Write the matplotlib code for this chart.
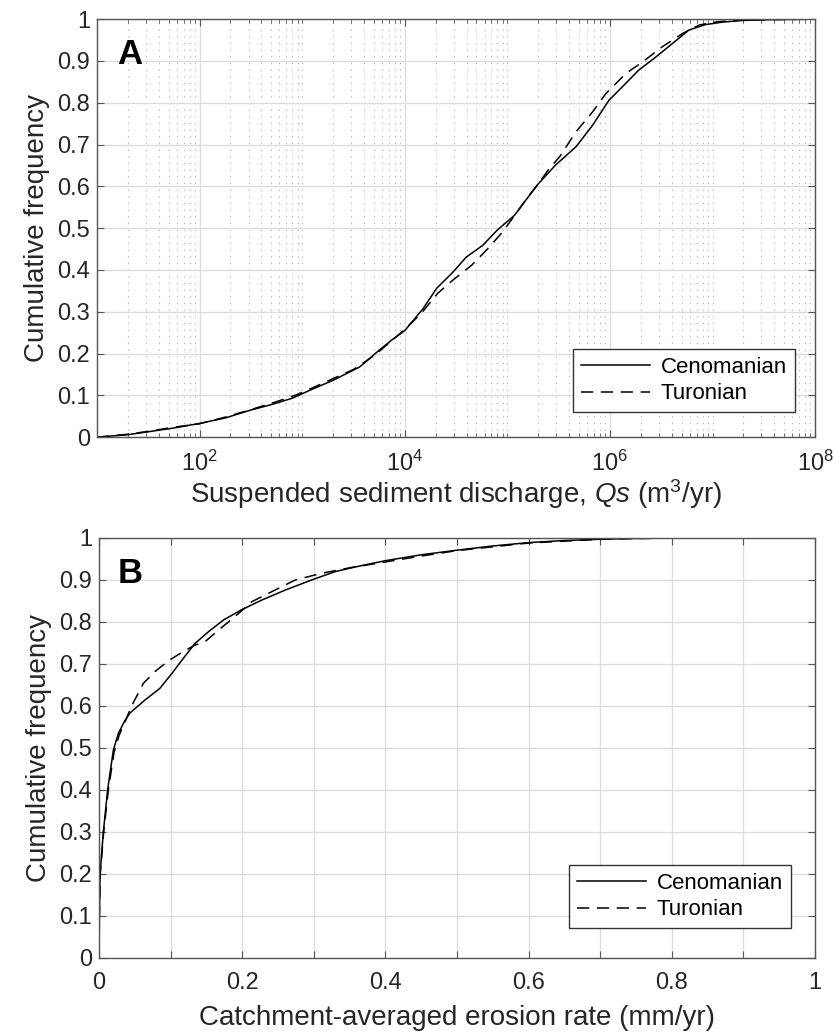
import numpy as np
import matplotlib
matplotlib.use("Agg")
import matplotlib.pyplot as plt
from matplotlib.ticker import LogLocator, FixedLocator, FuncFormatter, NullFormatter

plt.rcParams["font.family"] = ["Liberation Sans", "DejaVu Sans"]
plt.rcParams["mathtext.fontset"] = "custom"
plt.rcParams["mathtext.rm"] = "Liberation Sans"
plt.rcParams["mathtext.it"] = "Liberation Sans:italic"
plt.rcParams["mathtext.bf"] = "Liberation Sans:bold"

# Panel A: suspended sediment discharge (log10 of m3/yr) vs cumulative frequency
qs_log_cen = [1.0, 1.3, 1.5, 1.75, 2.0, 2.25, 2.5, 2.7, 2.9, 3.1, 3.3, 3.56, 3.75,
              3.87, 4.0, 4.18, 4.31, 4.47, 4.6, 4.76, 4.9, 5.07, 5.29, 5.47, 5.67,
              5.83, 5.99, 6.12, 6.28, 6.45, 6.61, 6.77, 6.93, 7.1, 7.3, 7.6, 8.0]
cf_cen_a = [0.0, 0.006, 0.013, 0.022, 0.033, 0.046, 0.065, 0.078, 0.093, 0.115, 0.136,
            0.168, 0.208, 0.232, 0.255, 0.308, 0.356, 0.395, 0.431, 0.459, 0.495,
            0.531, 0.603, 0.651, 0.695, 0.746, 0.806, 0.838, 0.878, 0.91, 0.942,
            0.974, 0.987, 0.993, 0.997, 0.999, 1.0]
qs_log_tur = [1.0, 1.3, 1.5, 1.75, 2.0, 2.25, 2.5, 2.75, 2.95, 3.1, 3.3, 3.5, 3.7,
              3.85, 4.0, 4.16, 4.32, 4.47, 4.65, 4.81, 4.95, 5.07, 5.2, 5.3, 5.4,
              5.51, 5.67, 5.83, 5.96, 6.155, 6.32, 6.51, 6.71, 6.87, 7.05, 7.3, 7.6, 8.0]
cf_tur_a = [0.0, 0.007, 0.014, 0.024, 0.032, 0.048, 0.066, 0.085, 0.102, 0.118, 0.14,
            0.162, 0.195, 0.226, 0.258, 0.296, 0.344, 0.376, 0.411, 0.451, 0.49,
            0.53, 0.575, 0.605, 0.64, 0.671, 0.731, 0.778, 0.822, 0.87, 0.898,
            0.934, 0.966, 0.986, 0.994, 0.998, 0.999, 1.0]

# Panel B: catchment-averaged erosion rate (mm/yr) vs cumulative frequency
er_cen = [0.0, 0.0005, 0.0015, 0.006, 0.012, 0.02, 0.027, 0.036, 0.043, 0.064, 0.085,
          0.102, 0.118, 0.134, 0.153, 0.174, 0.199, 0.227, 0.26, 0.3, 0.33, 0.355,
          0.40, 0.45, 0.5, 0.55, 0.6, 0.65, 0.7, 0.75, 0.8]
cf_cen_b = [0.0, 0.1, 0.2, 0.3, 0.4, 0.495, 0.535, 0.565, 0.583, 0.614, 0.642, 0.678,
            0.714, 0.749, 0.777, 0.805, 0.829, 0.852, 0.876, 0.902, 0.92, 0.93, 0.946,
            0.96, 0.971, 0.981, 0.989, 0.994, 0.997, 0.999, 1.0]
er_tur = [0.0, 0.0005, 0.0017, 0.0065, 0.013, 0.021, 0.028, 0.037, 0.046, 0.062, 0.078,
          0.099, 0.118, 0.134, 0.148, 0.167, 0.19, 0.213, 0.241, 0.274, 0.311, 0.35,
          0.4, 0.45, 0.5, 0.6, 0.7, 0.8, 0.9]
cf_tur_b = [0.0, 0.1, 0.2, 0.3, 0.4, 0.49, 0.53, 0.565, 0.602, 0.654, 0.682, 0.71,
            0.73, 0.745, 0.753, 0.781, 0.813, 0.848, 0.872, 0.9, 0.916, 0.929, 0.943,
            0.957, 0.97, 0.988, 0.997, 1.0, 1.0]

labels = ["Cenomanian", "Turonian"]
spine_col = "#555555"
text_col = "#262626"
fs_tick = 17
fs_lab = 20
fs_leg = 16

fig = plt.figure(figsize=(8.35, 10.36), dpi=100)
ax_a = fig.add_axes([0.1162, 0.578, 0.860, 0.4035])
ax_b = fig.add_axes([0.1186, 0.0753, 0.8575, 0.4054])

yfmt = FuncFormatter(lambda v, p: "%g" % round(v, 2))


def style(ax):
    for s in ax.spines.values():
        s.set_color(spine_col)
        s.set_linewidth(1.0)
    ax.tick_params(which="both", direction="in", top=True, right=True,
                   colors=spine_col, labelcolor=text_col, labelsize=fs_tick)
    ax.tick_params(which="major", length=5, pad=5)
    ax.tick_params(which="minor", length=3)
    ax.tick_params(axis="x", which="major", pad=10)
    ax.set_ylim(0, 1)
    ax.yaxis.set_major_locator(FixedLocator(np.arange(0, 1.01, 0.1)))
    ax.yaxis.set_major_formatter(yfmt)
    ax.set_ylabel("Cumulative frequency", fontsize=fs_lab, color=text_col, labelpad=5)
    ax.set_axisbelow(True)


def add_legend(ax, anchor):
    leg = ax.legend(loc="lower right", bbox_to_anchor=anchor, fontsize=fs_leg,
                    handlelength=3.1, handletextpad=0.5, fancybox=False,
                    framealpha=1, edgecolor="#333333", borderpad=0.35,
                    labelspacing=0.25, borderaxespad=0)
    leg.get_frame().set_linewidth(1.0)


dash = (0, (8, 5))

# ---- panel A
ax_a.plot(10 ** np.array(qs_log_cen), cf_cen_a, color="k", lw=1.1, label=labels[0])
ax_a.plot(10 ** np.array(qs_log_tur), cf_tur_a, color="k", lw=1.1, ls=dash, label=labels[1])
ax_a.set_xscale("log")
ax_a.set_xlim(1e1, 1e8)
style(ax_a)
ax_a.xaxis.set_major_locator(FixedLocator([1e2, 1e4, 1e6, 1e8]))
ax_a.xaxis.set_minor_locator(LogLocator(base=10, subs=np.arange(1, 10), numticks=30))
ax_a.xaxis.set_minor_formatter(NullFormatter())
ax_a.grid(True, which="major", color="#dddddd", lw=1.0)
ax_a.grid(True, which="minor", axis="x", color="#aaaaaa", lw=0.8, ls=(0, (1, 5)))
ax_a.set_xlabel(r"Suspended sediment discharge, $\it{Qs}$ (m$^3$/yr)",
                fontsize=fs_lab, color=text_col, labelpad=1)
ax_a.text(0.046, 0.915, "A", transform=ax_a.transAxes, fontsize=25,
          fontweight="bold", ha="center", va="center")
add_legend(ax_a, (0.972, 0.06))

# ---- panel B
ax_b.plot(er_cen, cf_cen_b, color="k", lw=1.1, label=labels[0])
ax_b.plot(er_tur, cf_tur_b, color="k", lw=1.1, ls=dash, label=labels[1])
ax_b.set_xlim(0, 1)
style(ax_b)
ax_b.xaxis.set_major_locator(FixedLocator(np.arange(0, 1.01, 0.1)))
ax_b.xaxis.set_major_formatter(
    FuncFormatter(lambda v, p: ("%g" % round(v, 2)) if p % 2 == 0 else ""))
ax_b.grid(True, which="major", color="#dddddd", lw=1.0)
ax_b.set_xlabel("Catchment-averaged erosion rate (mm/yr)", fontsize=fs_lab,
                color=text_col, labelpad=8)
ax_b.text(0.044, 0.915, "B", transform=ax_b.transAxes, fontsize=25,
          fontweight="bold", ha="center", va="center")
add_legend(ax_b, (0.966, 0.071))

fig.savefig("out.png", dpi=100)
